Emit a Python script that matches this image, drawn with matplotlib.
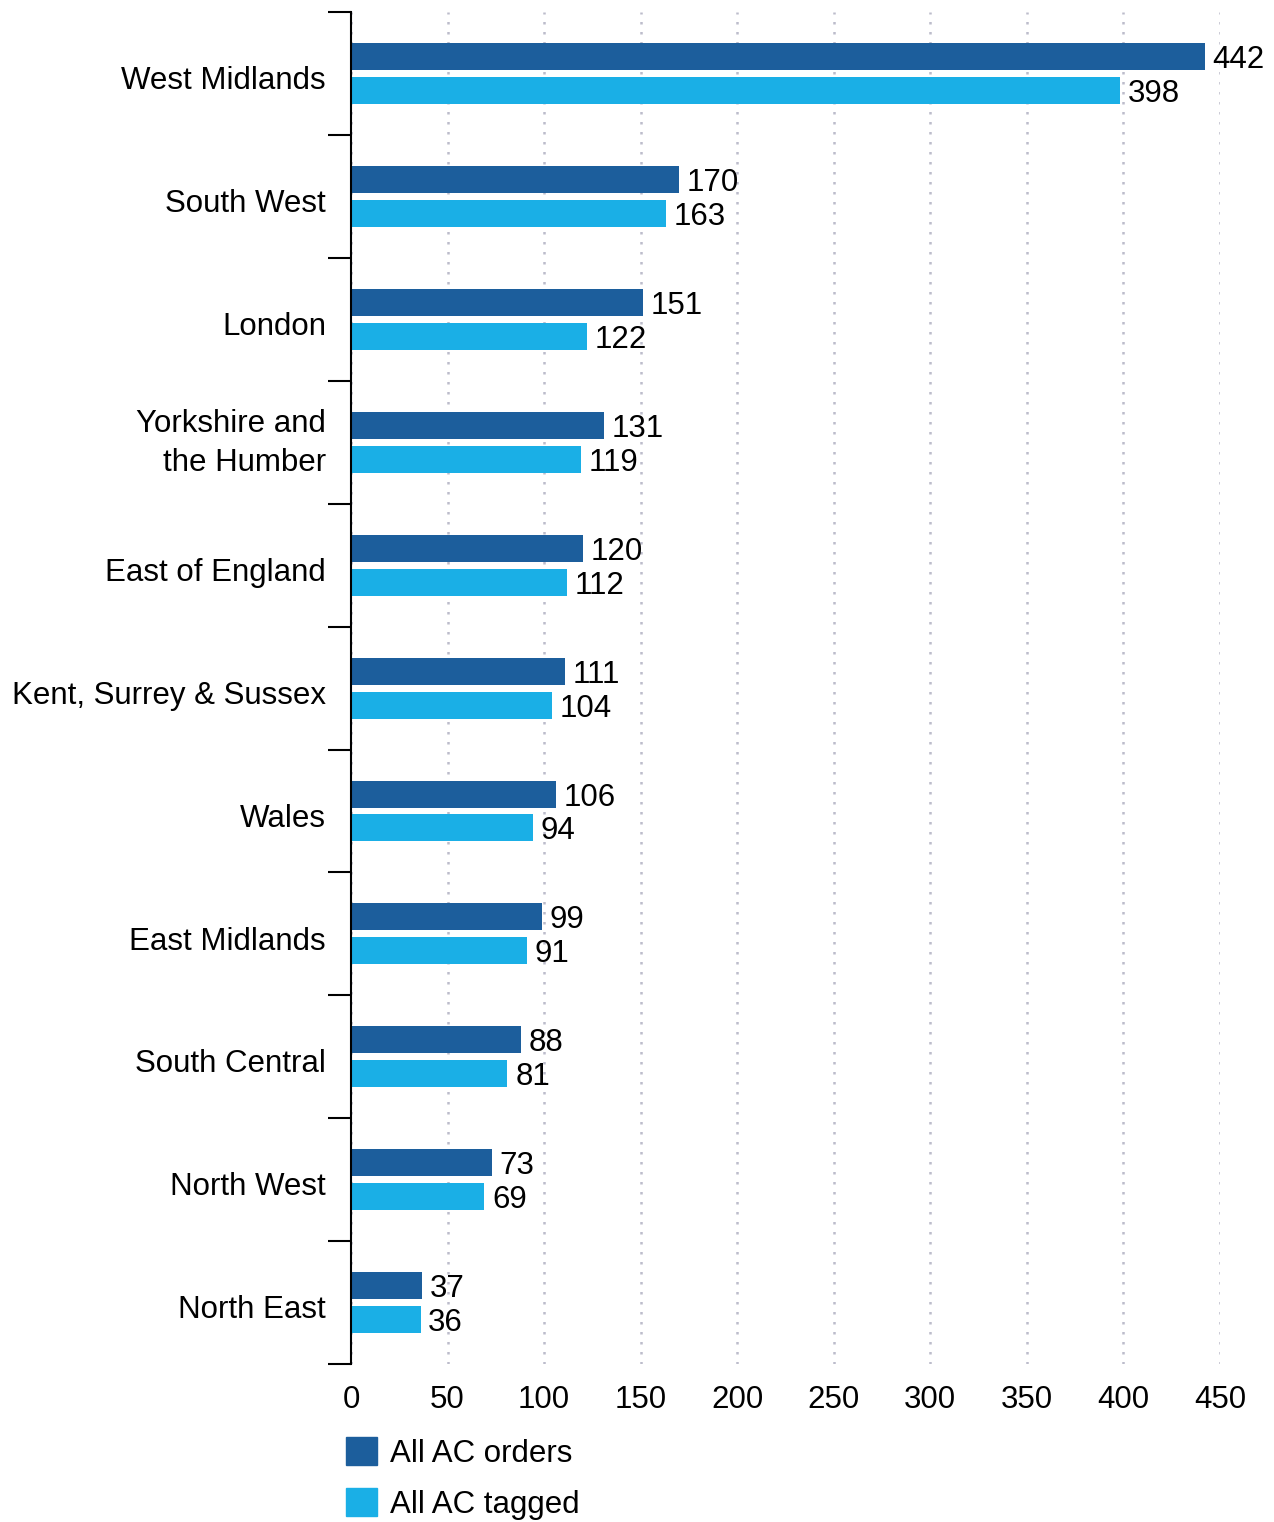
import numpy as np
import matplotlib.pyplot as plt
import matplotlib.transforms as mtransforms
from matplotlib.patches import Patch

plt.rcParams['font.family'] = ['Liberation Sans', 'DejaVu Sans']

regions = ['West Midlands', 'South West', 'London', 'Yorkshire and\nthe Humber',
           'East of England', 'Kent, Surrey & Sussex', 'Wales', 'East Midlands',
           'South Central', 'North West', 'North East']
orders = [442, 170, 151, 131, 120, 111, 106, 99, 88, 73, 37]
tagged = [398, 163, 122, 119, 112, 104, 94, 91, 81, 69, 36]

dark = '#1c5e9c'
light = '#1aafe6'
fs = 22.5

fig = plt.figure(figsize=(12.74, 15.22), dpi=100)
ax = fig.add_axes([0.2755, 0.1038, 0.6821, 0.8882])

y = np.arange(len(regions))
h = 0.22
off = 0.138
ax.barh(y - off, orders, height=h, color=dark)
ax.barh(y + off, tagged, height=h, color=light)

for yi, v in zip(y, orders):
    ax.text(v + 4, yi - off, str(v), va='center_baseline', ha='left', fontsize=fs)
for yi, v in zip(y, tagged):
    ax.text(v + 4, yi + off, str(v), va='center_baseline', ha='left', fontsize=fs)

ax.set_xlim(0, 450)
ax.set_ylim(len(regions) - 0.5, -0.5)
ax.set_xticks(range(0, 451, 50))
ax.tick_params(axis='x', length=0, labelsize=fs, pad=15)

# category labels on major ticks, boundary marks on minor ticks
ax.set_yticks(y)
ax.set_yticklabels(regions, fontsize=fs, linespacing=1.38, va='center_baseline')
ax.tick_params(axis='y', which='major', length=0, pad=18)
ax.set_yticks(np.arange(-0.5, len(regions), 1), minor=True)
ax.tick_params(axis='y', which='minor', length=16.5, width=1.5, color='black')

# nudge category labels; the two-line one sits a bit higher
for lab in ax.get_yticklabels():
    dy = 5 if '\n' in lab.get_text() else -3
    shift = mtransforms.ScaledTranslation(0, dy / 72, fig.dpi_scale_trans)
    lab.set_transform(lab.get_transform() + shift)

for s in ['top', 'right', 'bottom']:
    ax.spines[s].set_visible(False)
ax.spines['left'].set_linewidth(1.5)
ax.spines['left'].set_zorder(5)

ax.grid(axis='x', linestyle=(0, (1, 3)), linewidth=1.8, color='#bcbccb')
ax.grid(axis='y', visible=False)
ax.set_axisbelow(True)

handles = [Patch(color=dark, label='All AC orders'),
           Patch(color=light, label='All AC tagged')]
fig.legend(handles=handles, loc='upper left', bbox_to_anchor=(0.2716, 0.0558),
           frameon=False, fontsize=fs, handlelength=1.0, handleheight=1.0,
           handletextpad=0.4, labelspacing=0.62, borderaxespad=0, borderpad=0)

fig.savefig('out.png', dpi=100)
